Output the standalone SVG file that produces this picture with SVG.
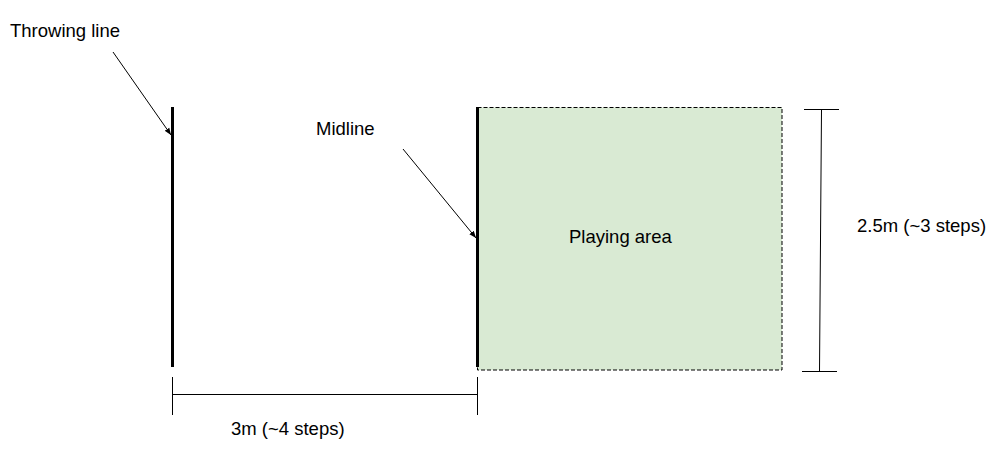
<svg xmlns="http://www.w3.org/2000/svg" width="1005" height="460" viewBox="0 0 1005 460">
<style>
text{font-family:"Liberation Sans",Arial,sans-serif;font-size:18.5px;fill:#000}
.thin{stroke:#000;stroke-width:1;fill:none}
.thick{stroke:#000;stroke-width:3;fill:none}
</style>
<defs>
<marker id="ah" viewBox="0 0 10 10" refX="10" refY="5" markerWidth="7" markerHeight="7" markerUnits="userSpaceOnUse" orient="auto">
<path d="M0,1 L10,5 L0,9 z" fill="#000"/>
</marker>
</defs>
<rect width="1005" height="460" fill="#fff"/>
<g id="playing-area">
<rect x="477.5" y="107.5" width="304.5" height="262.5" fill="#d9ead3" stroke="#000" stroke-width="1" stroke-dasharray="4,2"/>
<text x="569" y="243">Playing area</text>
</g>
<g id="throwing-line">
<line class="thick" x1="172.5" y1="107" x2="172.5" y2="367"/>
<text x="10" y="37">Throwing line</text>
</g>
<g id="midline">
<line class="thick" x1="477.5" y1="107" x2="477.5" y2="367"/>
<text x="316" y="135">Midline</text>
</g>
<g id="dim-horizontal">
<text x="231" y="435">3m (~4 steps)</text>
</g>
<g id="dim-vertical">
<text x="857" y="232">2.5m (~3 steps)</text>
</g>
<g id="connectors">
<line class="thin" x1="113" y1="52" x2="171" y2="135" marker-end="url(#ah)"/>
<line class="thin" x1="403" y1="149" x2="476" y2="238" marker-end="url(#ah)"/>
<line class="thin" x1="172.5" y1="394.5" x2="477.5" y2="394.5"/>
<line class="thin" x1="172.5" y1="377" x2="172.5" y2="415"/>
<line class="thin" x1="477.5" y1="377" x2="477.5" y2="415"/>
<line class="thin" x1="821.5" y1="109.5" x2="819.5" y2="371.5"/>
<line class="thin" x1="804" y1="109.5" x2="839" y2="109.5"/>
<line class="thin" x1="802" y1="371.5" x2="837" y2="371.5"/>
</g>
</svg>
